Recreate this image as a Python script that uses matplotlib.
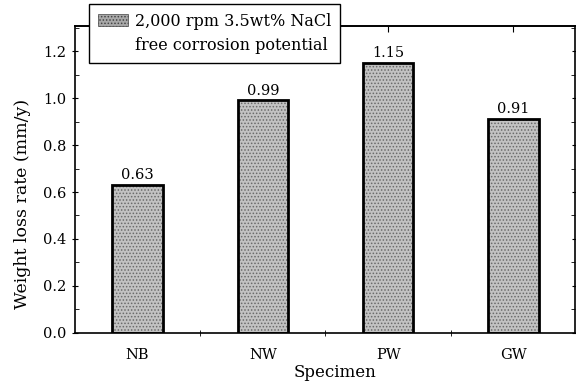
import matplotlib
matplotlib.use("Agg")
import matplotlib.pyplot as plt
from matplotlib.patches import Rectangle
from matplotlib.ticker import MultipleLocator, FormatStrFormatter

categories = ["NB", "NW", "PW", "GW"]
values = [0.63, 0.99, 1.15, 0.91]
value_labels = ["0.63", "0.99", "1.15", "0.91"]
legend_lines = ["2,000 rpm 3.5wt% NaCl", "free corrosion potential"]

plt.rcParams['font.family'] = ['DejaVu Serif']
plt.rcParams['hatch.linewidth'] = 0.7

fig = plt.figure(figsize=(5.76, 3.88), dpi=100)
ax = fig.add_axes([0.130, 0.142, 0.868, 0.791])

x = list(range(len(categories)))
ax.bar(x, values, width=0.4, color='#c2c2c2', edgecolor='#6a6a6a',
       hatch='.....', linewidth=0)
ax.bar(x, values, width=0.4, facecolor='none', edgecolor='black', linewidth=2)

for xi, v, lab in zip(x, values, value_labels):
    ax.annotate(lab, (xi, v), xytext=(0, 2), textcoords='offset points',
                ha='center', va='bottom', fontsize=10.5)

ax.set_xlim(-0.5, 3.49)
ax.set_ylim(0, 1.307)
ax.set_xticks(x)
ax.set_xticklabels(categories, fontsize=10.5)
ax.tick_params(axis='x', which='major', length=0, pad=11)
ax.set_xticks([0.5, 1.5, 2.5], minor=True)
ax.tick_params(axis='x', which='minor', length=4, direction='inout', top=False)

secx = ax.secondary_xaxis('top')
secx.set_xticks(x)
secx.tick_params(direction='in', length=4, labeltop=False)
secx.spines['top'].set_linewidth(1.2)

ax.yaxis.set_major_locator(MultipleLocator(0.2))
ax.yaxis.set_minor_locator(MultipleLocator(0.1))
ax.yaxis.set_major_formatter(FormatStrFormatter('%.1f'))
ax.tick_params(axis='y', which='major', length=5, direction='inout', right=True, labelsize=10.5)
ax.tick_params(axis='y', which='minor', length=3, direction='in', right=True)

for s in ax.spines.values():
    s.set_linewidth(1.2)

ax.set_xlabel("Specimen", fontsize=12)
ax.xaxis.set_label_coords(0.52, -0.10)
ax.set_ylabel("Weight loss rate (mm/y)", fontsize=12.5)
ax.yaxis.set_label_coords(-0.088, 0.42)

h1 = Rectangle((0, 0), 1, 1, facecolor='#a8a8a8', edgecolor='#444444', hatch='.....', linewidth=0.5)
h2 = Rectangle((0, 0), 1, 1, visible=False)
leg = fig.legend([h1, h2], legend_lines, loc='upper left',
                 bbox_to_anchor=(0.1545, 0.99), borderaxespad=0,
                 frameon=True, fancybox=False,
                 edgecolor='black', framealpha=1, fontsize=11.5,
                 handlelength=1.9, handleheight=0.7, handletextpad=0.4,
                 labelspacing=0.45, borderpad=0.55)
leg.get_frame().set_linewidth(1.0)
leg.set_zorder(10)

fig.savefig("out.png", dpi=100)
